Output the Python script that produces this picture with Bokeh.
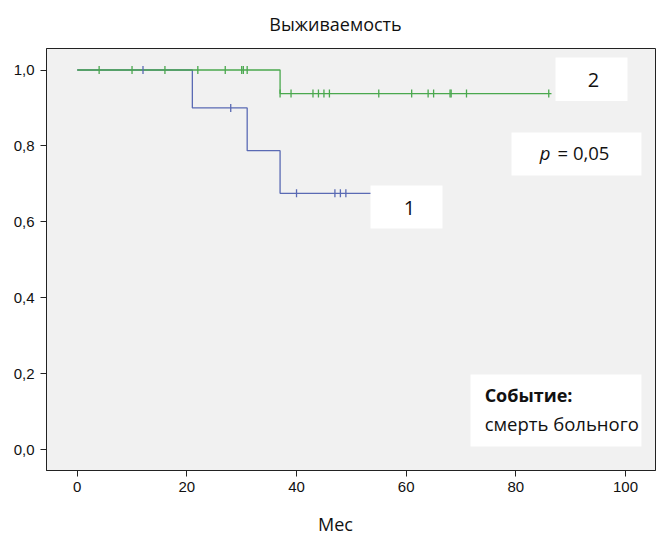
import numpy as np
from bokeh.plotting import figure
from bokeh.models import Range1d, FixedTicker, BoxAnnotation, Label, ColumnDataSource
from bokeh.embed import file_html
from bokeh.resources import INLINE

# ---- data ----
# Group 1 (blue): Kaplan-Meier steps
g1_event_times = [0, 21, 31, 37]
g1_surv = [1.0, 0.9, 0.7875, 0.675]
g1_end = 54
g1_censored = [12, 28, 40, 47, 48, 49]

# Group 2 (green)
g2_event_times = [0, 37]
g2_surv = [1.0, 0.938]
g2_end = 86.5
g2_censored = [4, 10, 16, 22, 27, 30, 30.3, 31, 37, 39, 43, 44, 45, 46,
               55, 61, 64, 65, 68, 68.2, 71, 86]

x_ticks = [0, 20, 40, 60, 80, 100]
x_tick_labels = ["0", "20", "40", "60", "80", "100"]
y_ticks = [0.0, 0.2, 0.4, 0.6, 0.8, 1.0]
y_tick_labels = ["0,0", "0,2", "0,4", "0,6", "0,8", "1,0"]

title_text = "Выживаемость"
x_label_text = "Мес"
group_names = ["1", "2"]
p_text = "= 0,05"
event_title = "Событие:"
event_text = "смерть больного"

BLUE = "#5a6ab4"
GREEN = "#4aa84e"
FONT = "Open Sans"


def surv_at(times, surv, t):
    s = surv[0]
    for tt, ss in zip(times, surv):
        if tt <= t:
            s = ss
    return s


p = figure(width=657, height=535,
           x_range=Range1d(-5.6, 105.47), y_range=Range1d(-0.0553, 1.0567),
           output_backend="svg", toolbar_location=None,
           min_border_left=46, min_border_right=2, min_border_top=48, min_border_bottom=65)

p.background_fill_color = "#f1f1f1"
p.border_fill_color = "white"
p.outline_line_color = "#222222"
p.outline_line_width = 1
p.xgrid.visible = False
p.ygrid.visible = False

for ax in (p.xaxis[0], p.yaxis[0]):
    ax.axis_line_color = "#222222"
    ax.major_tick_line_color = "#222222"
    ax.major_tick_out = 6
    ax.major_tick_in = 0
    ax.minor_tick_line_color = None
    ax.major_label_text_font = "Liberation Sans"
    ax.major_label_text_font_size = "15px"
    ax.major_label_text_color = "#111111"

p.xaxis.ticker = FixedTicker(ticks=x_ticks)
p.xaxis.major_label_overrides = {t: l for t, l in zip(x_ticks, x_tick_labels)}
p.xaxis.major_label_standoff = 5
p.yaxis.ticker = FixedTicker(ticks=y_ticks)
p.yaxis.major_label_overrides = {t: l for t, l in zip(y_ticks, y_tick_labels)}
p.yaxis.major_label_standoff = 6

# curves
g1_x = g1_event_times + [g1_end]
g1_y = g1_surv + [g1_surv[-1]]
g2_x = g2_event_times + [g2_end]
g2_y = g2_surv + [g2_surv[-1]]

p.step(g1_x, g1_y, mode="after", line_color=BLUE, line_width=1.3)
p.step(g2_x, g2_y, mode="after", line_color=GREEN, line_width=1.3)

c1 = ColumnDataSource(dict(x=g1_censored, y=[surv_at(g1_event_times, g1_surv, t) for t in g1_censored]))
c2 = ColumnDataSource(dict(x=g2_censored, y=[surv_at(g2_event_times, g2_surv, t) for t in g2_censored]))
p.scatter("x", "y", source=c1, marker="dash", angle=np.pi / 2, size=8, line_color=BLUE, line_width=1.3)
p.scatter("x", "y", source=c2, marker="dash", angle=np.pi / 2, size=8, line_color=GREEN, line_width=1.3)


# white boxes
def box(l, r, t, b):
    p.add_layout(BoxAnnotation(left=l, right=r, top=t, bottom=b, fill_color="white",
                               fill_alpha=1, line_color=None))


box(87.23, 100.36, 1.033, 0.9183)   # "2"
box(79.21, 102.9, 0.8353, 0.722)    # p
box(53.49, 66.62, 0.6957, 0.5823)   # "1"
box(71.73, 102.9, 0.1976, 0.0079)   # event


def lab(x, y, text, size="16px", align="center", style="normal", font=FONT, place=None):
    l = Label(x=x, y=y, text=text, text_align=align, text_baseline="middle",
              text_font=font, text_font_size=size, text_font_style=style,
              text_color="#111111")
    if place is None:
        p.add_layout(l)
    else:
        p.add_layout(l, place)


lab(94.17, 0.975, group_names[1], size="20px")
lab(60.6, 0.6377, group_names[0], size="20px")
lab(86.32, 0.7826, "p", size="18.5px", align="right", style="italic")
lab(87.6, 0.7826, p_text, size="18.5px", align="left")
lab(74.31, 0.1449, event_title, size="18px", align="left", style="bold")
lab(74.31, 0.0685, event_text, size="18.5px", align="left")

# title and x label (in side panels so they are not clipped to the frame)
lab(47.11, 1.1225, title_text, size="18px", place="above")
lab(47.11, -0.195, x_label_text, size="18px", place="below")

open("out.html", "w").write(file_html(p, INLINE))
